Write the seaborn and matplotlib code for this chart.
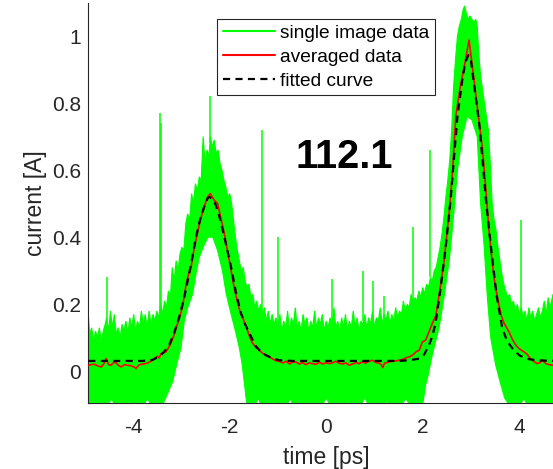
import numpy as np
import pandas as pd
import matplotlib
matplotlib.use("Agg")
import matplotlib.pyplot as plt
import seaborn as sns
from matplotlib.lines import Line2D

# ---------------- data ----------------
# upper envelope of the many single-image traces
upper_t = [-4.93, -4.90, -4.86, -4.82, -4.78, -4.74, -4.70, -4.66, -4.62, -4.58,
           -4.55, -4.51, -4.47, -4.43, -4.39, -4.35, -4.31, -4.27, -4.23, -4.19,
           -4.15, -4.11, -4.07, -4.03, -3.99, -3.95, -3.91, -3.87, -3.83, -3.79,
           -3.75, -3.71, -3.67, -3.63, -3.59, -3.55, -3.51, -3.47, -3.43, -3.39,
           -3.35, -3.31, -3.27, -3.23, -3.19, -3.15, -3.11, -3.07, -3.03, -2.99,
           -2.95, -2.91, -2.87, -2.83, -2.79, -2.75, -2.71, -2.67, -2.63, -2.59,
           -2.55, -2.51, -2.47, -2.43, -2.40, -2.36, -2.32, -2.28, -2.24, -2.20,
           -2.16, -2.12, -2.08, -2.04, -2.00, -1.96, -1.92, -1.88, -1.84, -1.80,
           -1.76, -1.72, -1.68, -1.64, -1.60, -1.56, -1.52, -1.48, -1.44, -1.40,
           -1.36, -1.32, -1.28, -1.24, -1.20, -1.16, -1.12, -1.08, -1.04, -1.00,
           -0.96, -0.92, -0.88, -0.84, -0.80, -0.76, -0.72, -0.68, -0.64, -0.60,
           -0.56, -0.52, -0.48, -0.44, -0.40, -0.36, -0.32, -0.28, -0.24, -0.20,
           -0.16, -0.12, -0.08, -0.04, 0.00, 0.04, 0.08, 0.12, 0.16, 0.20,
           0.24, 0.28, 0.32, 0.36, 0.40, 0.44, 0.48, 0.52, 0.56, 0.60,
           0.64, 0.68, 0.72, 0.76, 0.80, 0.84, 0.88, 0.92, 0.96, 1.00,
           1.04, 1.08, 1.12, 1.16, 1.20, 1.24, 1.28, 1.32, 1.36, 1.40,
           1.44, 1.48, 1.52, 1.56, 1.60, 1.64, 1.68, 1.72, 1.76, 1.80,
           1.84, 1.88, 1.92, 1.96, 2.00, 2.04, 2.08, 2.12, 2.16, 2.20,
           2.24, 2.28, 2.32, 2.36, 2.40, 2.44, 2.48, 2.52, 2.56, 2.60,
           2.64, 2.68, 2.72, 2.76, 2.80, 2.84, 2.87, 2.90, 2.94, 2.98,
           3.02, 3.06, 3.10, 3.13, 3.16, 3.20, 3.24, 3.28, 3.32, 3.36,
           3.40, 3.44, 3.48, 3.52, 3.56, 3.60, 3.64, 3.68, 3.72, 3.76,
           3.80, 3.84, 3.88, 3.92, 3.96, 4.00, 4.04, 4.08, 4.12, 4.16,
           4.20, 4.24, 4.28, 4.32, 4.36, 4.40, 4.44, 4.48, 4.52, 4.56,
           4.60, 4.64, 4.70]
upper_i = [0.17, 0.11, 0.13, 0.09, 0.12, 0.10, 0.13, 0.09, 0.12, 0.14,
           0.16, 0.12, 0.18, 0.13, 0.17, 0.11, 0.13, 0.10, 0.14, 0.12,
           0.15, 0.11, 0.16, 0.13, 0.17, 0.12, 0.15, 0.13, 0.18, 0.14,
           0.17, 0.13, 0.18, 0.14, 0.17, 0.15, 0.18, 0.16, 0.20, 0.17,
           0.21, 0.19, 0.24, 0.22, 0.31, 0.27, 0.33, 0.30, 0.35, 0.37,
           0.36, 0.44, 0.47, 0.45, 0.53, 0.50, 0.56, 0.54, 0.58, 0.57,
           0.70, 0.62, 0.66, 0.64, 0.70, 0.67, 0.69, 0.65, 0.66, 0.62,
           0.60, 0.57, 0.55, 0.52, 0.53, 0.50, 0.45, 0.40, 0.36, 0.33,
           0.30, 0.31, 0.27, 0.25, 0.26, 0.22, 0.23, 0.19, 0.21, 0.18,
           0.20, 0.17, 0.19, 0.15, 0.18, 0.14, 0.17, 0.14, 0.16, 0.13,
           0.17, 0.12, 0.15, 0.13, 0.18, 0.12, 0.16, 0.14, 0.19, 0.13,
           0.15, 0.12, 0.17, 0.14, 0.16, 0.12, 0.15, 0.13, 0.18, 0.13,
           0.16, 0.14, 0.17, 0.12, 0.15, 0.13, 0.16, 0.14, 0.19, 0.13,
           0.15, 0.12, 0.16, 0.13, 0.17, 0.12, 0.15, 0.13, 0.18, 0.13,
           0.16, 0.12, 0.15, 0.14, 0.17, 0.13, 0.16, 0.14, 0.18, 0.13,
           0.16, 0.15, 0.19, 0.14, 0.17, 0.15, 0.18, 0.14, 0.17, 0.15,
           0.19, 0.16, 0.18, 0.17, 0.21, 0.18, 0.20, 0.19, 0.23, 0.20,
           0.22, 0.21, 0.24, 0.22, 0.25, 0.23, 0.26, 0.25, 0.28, 0.27,
           0.30, 0.31, 0.34, 0.37, 0.41, 0.46, 0.52, 0.57, 0.63, 0.72,
           0.85, 0.93, 1.00, 1.03, 1.05, 1.08, 1.09, 1.07, 1.05, 1.06,
           1.05, 1.04, 1.05, 1.03, 0.95, 0.88, 0.84, 0.80, 0.76, 0.72,
           0.62, 0.50, 0.45, 0.42, 0.37, 0.33, 0.29, 0.26, 0.24, 0.22,
           0.23, 0.20, 0.21, 0.18, 0.20, 0.17, 0.19, 0.16, 0.18, 0.15,
           0.19, 0.16, 0.18, 0.15, 0.17, 0.19, 0.16, 0.18, 0.21, 0.17,
           0.22, 0.19, 0.23]

# lower envelope of the single-image traces
lower_t = [-4.93, -4.80, -4.72, -4.62, -4.45, -4.30, -4.10, -3.90, -3.70, -3.55,
           -3.45, -3.39, -3.30, -3.18, -3.10, -3.01, -2.94, -2.87, -2.77, -2.70,
           -2.63, -2.55, -2.45, -2.35, -2.25, -2.15, -2.07, -1.97, -1.88, -1.80,
           -1.74, -1.70, -1.66, -1.60, -1.40, -1.30, -1.10, -0.90, -0.75, -0.60,
           -0.40, -0.20, 0.00, 0.20, 0.45, 0.60, 0.80, 1.00, 1.25, 1.45,
           1.65, 1.85, 2.00, 2.06, 2.10, 2.20, 2.34, 2.44, 2.55, 2.65,
           2.72, 2.82, 2.92, 3.02, 3.13, 3.20, 3.27, 3.34, 3.41, 3.51,
           3.62, 3.70, 3.79, 3.90, 4.10, 4.25, 4.45, 4.55, 4.70]
lower_i = [-0.13, -0.09, -0.13, -0.13, -0.08, -0.13, -0.09, -0.13, -0.08, -0.13,
           -0.13, -0.10, -0.07, -0.03, 0.02, 0.07, 0.15, 0.19, 0.23, 0.29,
           0.34, 0.37, 0.40, 0.40, 0.36, 0.30, 0.23, 0.17, 0.12, 0.07,
           0.02, -0.03, -0.08, -0.13, -0.08, -0.13, -0.09, -0.13, -0.08, -0.13,
           -0.09, -0.13, -0.08, -0.13, -0.09, -0.13, -0.08, -0.13, -0.09, -0.13,
           -0.08, -0.13, -0.10, -0.04, -0.02, 0.05, 0.13, 0.22, 0.33, 0.48,
           0.60, 0.70, 0.76, 0.75, 0.70, 0.50, 0.38, 0.22, 0.10, 0.02,
           -0.04, -0.08, -0.10, -0.13, -0.08, -0.13, -0.09, -0.13, -0.13]

# isolated single-sample spikes of individual traces (base = band top there)
spike_t = [-4.55, -3.44, -3.42, -2.40, -1.33, -0.99, 0.12, 0.77, 0.97, 1.20, 1.80, 2.15, 4.03]
spike_base = [0.15, 0.18, 0.18, 0.68, 0.17, 0.14, 0.14, 0.15, 0.15, 0.16, 0.20, 0.28, 0.17]
spike_i = [0.28, 0.77, 0.74, 0.82, 0.72, 0.40, 0.275, 0.30, 0.27, 0.225, 0.43, 0.66, 0.45]

# averaged data
avg_t = [-4.93, -4.87, -4.80, -4.73, -4.66, -4.61, -4.56, -4.51, -4.46, -4.40,
         -4.35, -4.30, -4.25, -4.18, -4.11, -4.03, -3.97, -3.94, -3.89, -3.84,
         -3.77, -3.70, -3.63, -3.56, -3.50, -3.46, -3.42, -3.37, -3.32, -3.27,
         -3.22, -3.15, -3.08, -3.03, -2.98, -2.94, -2.90, -2.85, -2.80, -2.75,
         -2.70, -2.62, -2.53, -2.46, -2.40, -2.33, -2.25, -2.18, -2.11, -2.04,
         -1.97, -1.90, -1.83, -1.78, -1.73, -1.68, -1.63, -1.58, -1.53, -1.46,
         -1.39, -1.30, -1.18, -1.05, -0.98, -0.90, -0.83, -0.76, -0.70, -0.63,
         -0.56, -0.49, -0.42, -0.35, -0.28, -0.21, -0.14, -0.07, 0.00, 0.06,
         0.13, 0.20, 0.27, 0.34, 0.41, 0.48, 0.55, 0.62, 0.68, 0.75,
         0.82, 0.89, 0.96, 1.03, 1.10, 1.14, 1.17, 1.21, 1.30, 1.37,
         1.44, 1.51, 1.58, 1.65, 1.72, 1.79, 1.86, 1.93, 1.99, 2.06,
         2.10, 2.17, 2.22, 2.27, 2.34, 2.44, 2.55, 2.62, 2.685, 2.78,
         2.86, 2.96, 3.03, 3.13, 3.24, 3.31, 3.37, 3.43, 3.48, 3.53,
         3.58, 3.63, 3.69, 3.74, 3.79, 3.86, 3.93, 4.01, 4.10, 4.17,
         4.22, 4.27, 4.32, 4.37, 4.43, 4.48, 4.52, 4.55, 4.62, 4.70]
avg_i = [0.018, 0.020, 0.021, 0.016, 0.013, 0.022, 0.038, 0.020, 0.018, 0.027,
         0.025, 0.017, 0.013, 0.020, 0.018, 0.016, 0.012, 0.008, 0.018, 0.021,
         0.022, 0.025, 0.030, 0.038, 0.045, 0.040, 0.053, 0.055, 0.058, 0.070,
         0.083, 0.110, 0.142, 0.165, 0.192, 0.225, 0.262, 0.290, 0.311, 0.355,
         0.391, 0.445, 0.490, 0.520, 0.530, 0.512, 0.500, 0.455, 0.410, 0.355,
         0.300, 0.245, 0.202, 0.175, 0.160, 0.140, 0.122, 0.100, 0.085, 0.072,
         0.063, 0.052, 0.043, 0.032, 0.030, 0.025, 0.030, 0.022, 0.027, 0.028,
         0.022, 0.026, 0.020, 0.025, 0.023, 0.021, 0.027, 0.022, 0.026, 0.023,
         0.025, 0.030, 0.024, 0.022, 0.025, 0.018, 0.022, 0.026, 0.023, 0.028,
         0.025, 0.030, 0.033, 0.026, 0.024, 0.020, 0.011, 0.024, 0.028, 0.030,
         0.031, 0.033, 0.035, 0.040, 0.043, 0.048, 0.058, 0.063, 0.087, 0.093,
         0.107, 0.132, 0.150, 0.165, 0.227, 0.326, 0.476, 0.600, 0.760, 0.850,
         0.908, 0.988, 0.908, 0.789, 0.660, 0.540, 0.426, 0.340, 0.277, 0.235,
         0.197, 0.165, 0.142, 0.130, 0.117, 0.095, 0.078, 0.066, 0.058, 0.050,
         0.040, 0.033, 0.028, 0.023, 0.026, 0.033, 0.028, 0.023, 0.020, 0.018]

# fitted curve
fit_t = [-4.93, -3.80, -3.60, -3.45, -3.35, -3.25, -3.15, -3.05, -2.95, -2.87,
         -2.78, -2.70, -2.61, -2.53, -2.46, -2.42, -2.36, -2.30, -2.22, -2.11,
         -2.04, -1.97, -1.87, -1.77, -1.68, -1.59, -1.46, -1.35, -1.25, -1.10,
         -0.97, -0.70, 1.50, 1.72, 1.93, 2.03, 2.13, 2.20, 2.27, 2.37,
         2.48, 2.58, 2.65, 2.72, 2.82, 2.88, 2.946, 3.00, 3.06, 3.17,
         3.24, 3.31, 3.41, 3.53, 3.65, 3.75, 3.86, 4.00, 4.13, 4.35, 4.70]
fit_i = [0.031, 0.031, 0.034, 0.045, 0.060, 0.080, 0.115, 0.160, 0.215, 0.270,
         0.335, 0.400, 0.455, 0.490, 0.515, 0.520, 0.515, 0.500, 0.465, 0.400,
         0.355, 0.310, 0.235, 0.175, 0.140, 0.113, 0.075, 0.058, 0.048, 0.038,
         0.033, 0.031, 0.031, 0.033, 0.038, 0.050, 0.078, 0.105, 0.147, 0.247,
         0.376, 0.515, 0.640, 0.760, 0.869, 0.920, 0.943, 0.925, 0.859, 0.740,
         0.630, 0.510, 0.376, 0.227, 0.127, 0.090, 0.068, 0.048, 0.038, 0.033, 0.031]

xtick_vals = [-4, -2, 0, 2, 4]
xtick_labels = ["-4", "-2", "0", "2", "4"]
ytick_vals = [0, 0.2, 0.4, 0.6, 0.8, 1.0]
ytick_labels = ["0", "0.2", "0.4", "0.6", "0.8", "1"]
legend_labels = ["single image data", "averaged data", "fitted curve"]
annotation = "112.1"

# ---------------- styling ----------------
sns.set_style("white")
plt.rcParams['font.family'] = ['Liberation Sans', 'DejaVu Sans']

GREEN = "#00FF00"
RED = "#FF0000"
AX_COLOR = "#262626"

fig = plt.figure(figsize=(5.53, 4.69), dpi=100)
ax = fig.add_axes([88.3 / 553, 66 / 469, (553 - 88.3) / 553, 400.5 / 469])

# green band of single-image traces
poly_t = np.concatenate([upper_t, lower_t[::-1]])
poly_i = np.concatenate([upper_i, lower_i[::-1]])
ax.fill(poly_t, poly_i, color=GREEN, lw=0.8, ec=GREEN, zorder=1)
ax.vlines(spike_t, spike_base, spike_i, color=GREEN, lw=1.1, zorder=1)

avg_df = pd.DataFrame({"t": avg_t, "i": avg_i})
fit_df = pd.DataFrame({"t": fit_t, "i": fit_i})
sns.lineplot(data=avg_df, x="t", y="i", ax=ax, color=RED, lw=1.2, sort=False, zorder=3)
sns.lineplot(data=fit_df, x="t", y="i", ax=ax, color="black", lw=1.6,
             linestyle=(0, (3.2, 2.4)), sort=False, zorder=4)

ax.set_xlim(-4.93, 4.70)
ax.set_ylim(-0.0945, 1.1)
ax.set_xticks(xtick_vals)
ax.set_xticklabels(xtick_labels)
ax.set_yticks(ytick_vals)
ax.set_yticklabels(ytick_labels)

for s in ["top", "right"]:
    ax.spines[s].set_visible(False)
for s in ["left", "bottom"]:
    ax.spines[s].set_color(AX_COLOR)
    ax.spines[s].set_linewidth(0.8)

ax.tick_params(direction="in", length=4, width=0.8, color=AX_COLOR,
               labelcolor=AX_COLOR, labelsize=15)
ax.tick_params(axis="x", pad=11)
ax.tick_params(axis="y", pad=5)

ax.set_xlabel("time [ps]", fontsize=16.5, color=AX_COLOR)
ax.set_ylabel("current [A]", fontsize=16.5, color=AX_COLOR)
ax.xaxis.set_label_coords(0.512, -0.107)
ax.yaxis.set_label_coords(-0.089, 0.5)

ax.text(0.367, 0.64, annotation, fontsize=28.5, fontweight="bold",
        ha="center", va="center", color="black", zorder=5)

handles = [Line2D([], [], color=GREEN, lw=1.5),
           Line2D([], [], color=RED, lw=1.5),
           Line2D([], [], color="black", lw=1.6, linestyle=(0, (3.2, 2.4)))]
leg = ax.legend(handles, legend_labels, loc="upper left",
                bbox_to_anchor=(217 / 553, 1 - 19 / 469), bbox_transform=fig.transFigure,
                borderaxespad=0, frameon=True, fancybox=False, framealpha=1,
                edgecolor=AX_COLOR, fontsize=13.8, handlelength=2.7,
                handletextpad=0.27, labelspacing=0.33, borderpad=0.3)
leg.get_frame().set_linewidth(0.8)
for t in leg.get_texts():
    t.set_color("black")

fig.savefig("out.png", dpi=100)
